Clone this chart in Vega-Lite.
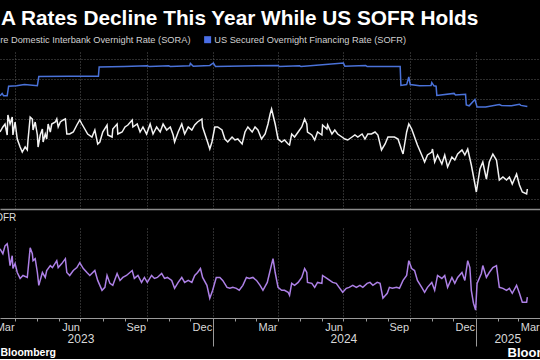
{
  "$schema": "https://vega.github.io/schema/vega-lite/v6.json",
  "background": "#000000",
  "padding": {"left": -11, "top": 8, "right": -36, "bottom": 0},
  "title": {"text": "A Rates Decline This Year While US SOFR Holds", "anchor": "start", "font": "Liberation Sans", "fontSize": 20.8, "fontWeight": "bold", "color": "#ffffff", "dx": 12, "offset": -11, "baseline": "alphabetic"},
  "config": {
    "view": {"stroke": null},
    "font": "Liberation Sans",
    "axis": {"gridColor": "#5a5a5a", "gridDash": [1, 2], "gridWidth": 1}
  },
  "spacing": 4,
  "datasets": {
    "sofr": [
      {"date": "2023-03-11", "rate": 4.58}, {"date": "2023-03-14", "rate": 4.64}, {"date": "2023-03-16", "rate": 4.58}, {"date": "2023-03-21", "rate": 4.58},
      {"date": "2023-03-23", "rate": 4.82}, {"date": "2023-04-03", "rate": 4.83}, {"date": "2023-04-14", "rate": 4.86}, {"date": "2023-05-02", "rate": 4.83},
      {"date": "2023-05-04", "rate": 5.06}, {"date": "2023-06-15", "rate": 5.07}, {"date": "2023-07-26", "rate": 5.07}, {"date": "2023-07-27", "rate": 5.3},
      {"date": "2023-08-31", "rate": 5.31}, {"date": "2023-10-02", "rate": 5.33}, {"date": "2023-10-05", "rate": 5.31}, {"date": "2023-11-01", "rate": 5.33},
      {"date": "2023-11-03", "rate": 5.31}, {"date": "2023-11-30", "rate": 5.33}, {"date": "2023-12-01", "rate": 5.39}, {"date": "2023-12-05", "rate": 5.32},
      {"date": "2023-12-28", "rate": 5.34}, {"date": "2024-01-02", "rate": 5.4}, {"date": "2024-01-05", "rate": 5.31}, {"date": "2024-04-01", "rate": 5.34},
      {"date": "2024-04-03", "rate": 5.31}, {"date": "2024-05-01", "rate": 5.33}, {"date": "2024-05-03", "rate": 5.31}, {"date": "2024-07-01", "rate": 5.4},
      {"date": "2024-07-03", "rate": 5.32}, {"date": "2024-08-01", "rate": 5.34}, {"date": "2024-08-03", "rate": 5.31}, {"date": "2024-09-18", "rate": 5.31},
      {"date": "2024-09-19", "rate": 4.84}, {"date": "2024-09-27", "rate": 4.86}, {"date": "2024-09-30", "rate": 5.05}, {"date": "2024-10-02", "rate": 4.86},
      {"date": "2024-10-15", "rate": 4.83}, {"date": "2024-10-31", "rate": 4.84}, {"date": "2024-11-01", "rate": 4.91}, {"date": "2024-11-04", "rate": 4.83},
      {"date": "2024-11-07", "rate": 4.82}, {"date": "2024-11-08", "rate": 4.59}, {"date": "2024-12-02", "rate": 4.64}, {"date": "2024-12-04", "rate": 4.6},
      {"date": "2024-12-18", "rate": 4.62}, {"date": "2024-12-19", "rate": 4.35}, {"date": "2024-12-23", "rate": 4.33}, {"date": "2024-12-31", "rate": 4.49},
      {"date": "2025-01-03", "rate": 4.3}, {"date": "2025-01-15", "rate": 4.3}, {"date": "2025-02-03", "rate": 4.36}, {"date": "2025-02-06", "rate": 4.34},
      {"date": "2025-02-20", "rate": 4.33}, {"date": "2025-03-03", "rate": 4.37}, {"date": "2025-03-05", "rate": 4.34}, {"date": "2025-03-14", "rate": 4.31}
    ],
    "sora": [
      {"date": "2023-03-11", "rate": 3.675}, {"date": "2023-03-15", "rate": 3.8}, {"date": "2023-03-18", "rate": 3.875}, {"date": "2023-03-21", "rate": 3.6},
      {"date": "2023-03-22", "rate": 4.1}, {"date": "2023-03-25", "rate": 3.875}, {"date": "2023-03-28", "rate": 4.05}, {"date": "2023-03-29", "rate": 3.6},
      {"date": "2023-04-01", "rate": 3.925}, {"date": "2023-04-04", "rate": 3.5}, {"date": "2023-04-08", "rate": 3.3}, {"date": "2023-04-11", "rate": 3.175},
      {"date": "2023-04-15", "rate": 3.3}, {"date": "2023-04-18", "rate": 3.225}, {"date": "2023-04-19", "rate": 3.475}, {"date": "2023-04-22", "rate": 4.05},
      {"date": "2023-04-25", "rate": 4.0}, {"date": "2023-04-26", "rate": 3.725}, {"date": "2023-04-29", "rate": 3.925}, {"date": "2023-05-02", "rate": 3.6},
      {"date": "2023-05-03", "rate": 3.3}, {"date": "2023-05-06", "rate": 3.6}, {"date": "2023-05-09", "rate": 3.75}, {"date": "2023-05-10", "rate": 3.425},
      {"date": "2023-05-13", "rate": 3.625}, {"date": "2023-05-15", "rate": 3.5}, {"date": "2023-05-17", "rate": 3.875}, {"date": "2023-05-20", "rate": 3.675},
      {"date": "2023-05-22", "rate": 3.875}, {"date": "2023-05-27", "rate": 3.925}, {"date": "2023-05-29", "rate": 4.0}, {"date": "2023-05-31", "rate": 3.8},
      {"date": "2023-06-03", "rate": 3.925}, {"date": "2023-06-07", "rate": 3.975}, {"date": "2023-06-10", "rate": 4.0}, {"date": "2023-06-12", "rate": 3.625},
      {"date": "2023-06-16", "rate": 3.625}, {"date": "2023-06-21", "rate": 3.675}, {"date": "2023-06-26", "rate": 3.85}, {"date": "2023-06-30", "rate": 3.975},
      {"date": "2023-07-03", "rate": 3.875}, {"date": "2023-07-07", "rate": 3.75}, {"date": "2023-07-11", "rate": 3.625}, {"date": "2023-07-17", "rate": 3.55},
      {"date": "2023-07-21", "rate": 3.725}, {"date": "2023-07-25", "rate": 3.375}, {"date": "2023-07-28", "rate": 3.425}, {"date": "2023-08-01", "rate": 3.675},
      {"date": "2023-08-07", "rate": 3.85}, {"date": "2023-08-08", "rate": 3.6}, {"date": "2023-08-14", "rate": 3.55}, {"date": "2023-08-15", "rate": 3.75},
      {"date": "2023-08-21", "rate": 3.875}, {"date": "2023-08-22", "rate": 3.625}, {"date": "2023-08-28", "rate": 3.675}, {"date": "2023-09-01", "rate": 3.8},
      {"date": "2023-09-05", "rate": 3.85}, {"date": "2023-09-11", "rate": 3.975}, {"date": "2023-09-12", "rate": 3.8}, {"date": "2023-09-18", "rate": 3.875},
      {"date": "2023-09-22", "rate": 3.675}, {"date": "2023-09-26", "rate": 3.8}, {"date": "2023-10-01", "rate": 3.625}, {"date": "2023-10-06", "rate": 3.875},
      {"date": "2023-10-10", "rate": 3.625}, {"date": "2023-10-15", "rate": 3.8}, {"date": "2023-10-20", "rate": 3.675}, {"date": "2023-10-24", "rate": 3.875},
      {"date": "2023-10-29", "rate": 3.725}, {"date": "2023-11-03", "rate": 3.8}, {"date": "2023-11-07", "rate": 3.6}, {"date": "2023-11-09", "rate": 3.425},
      {"date": "2023-11-14", "rate": 3.675}, {"date": "2023-11-19", "rate": 3.875}, {"date": "2023-11-23", "rate": 3.625}, {"date": "2023-11-28", "rate": 3.8},
      {"date": "2023-12-03", "rate": 3.725}, {"date": "2023-12-07", "rate": 3.85}, {"date": "2023-12-11", "rate": 3.925}, {"date": "2023-12-17", "rate": 4.0},
      {"date": "2023-12-18", "rate": 3.8}, {"date": "2023-12-24", "rate": 3.475}, {"date": "2023-12-28", "rate": 3.25}, {"date": "2023-12-31", "rate": 3.425},
      {"date": "2024-01-04", "rate": 3.8}, {"date": "2024-01-08", "rate": 3.8}, {"date": "2024-01-14", "rate": 3.725}, {"date": "2024-01-18", "rate": 3.5},
      {"date": "2024-01-22", "rate": 3.425}, {"date": "2024-01-28", "rate": 3.55}, {"date": "2024-02-01", "rate": 3.475}, {"date": "2024-02-05", "rate": 3.5},
      {"date": "2024-02-11", "rate": 3.375}, {"date": "2024-02-15", "rate": 3.675}, {"date": "2024-02-19", "rate": 3.8}, {"date": "2024-02-25", "rate": 3.675},
      {"date": "2024-02-29", "rate": 3.8}, {"date": "2024-03-04", "rate": 3.725}, {"date": "2024-03-09", "rate": 3.5}, {"date": "2024-03-14", "rate": 3.625},
      {"date": "2024-03-18", "rate": 3.875}, {"date": "2024-03-21", "rate": 4.125}, {"date": "2024-03-23", "rate": 4.25}, {"date": "2024-03-28", "rate": 3.875},
      {"date": "2024-04-01", "rate": 3.5}, {"date": "2024-04-06", "rate": 3.425}, {"date": "2024-04-10", "rate": 3.475}, {"date": "2024-04-15", "rate": 3.375},
      {"date": "2024-04-17", "rate": 3.35}, {"date": "2024-04-20", "rate": 3.625}, {"date": "2024-04-24", "rate": 3.55}, {"date": "2024-04-29", "rate": 3.675},
      {"date": "2024-05-04", "rate": 3.8}, {"date": "2024-05-08", "rate": 4.0}, {"date": "2024-05-11", "rate": 3.875}, {"date": "2024-05-12", "rate": 3.675},
      {"date": "2024-05-18", "rate": 3.6}, {"date": "2024-05-22", "rate": 3.475}, {"date": "2024-05-26", "rate": 3.675}, {"date": "2024-06-01", "rate": 3.6},
      {"date": "2024-06-02", "rate": 3.85}, {"date": "2024-06-08", "rate": 3.75}, {"date": "2024-06-09", "rate": 3.85}, {"date": "2024-06-15", "rate": 3.625},
      {"date": "2024-06-19", "rate": 3.725}, {"date": "2024-06-23", "rate": 3.625}, {"date": "2024-06-29", "rate": 3.55}, {"date": "2024-07-03", "rate": 3.5},
      {"date": "2024-07-07", "rate": 3.475}, {"date": "2024-07-13", "rate": 3.55}, {"date": "2024-07-17", "rate": 3.6}, {"date": "2024-07-21", "rate": 3.55},
      {"date": "2024-07-27", "rate": 3.625}, {"date": "2024-07-31", "rate": 3.5}, {"date": "2024-08-04", "rate": 3.625}, {"date": "2024-08-09", "rate": 3.625},
      {"date": "2024-08-14", "rate": 3.675}, {"date": "2024-08-18", "rate": 3.6}, {"date": "2024-08-23", "rate": 3.225}, {"date": "2024-08-28", "rate": 3.375},
      {"date": "2024-09-01", "rate": 3.55}, {"date": "2024-09-06", "rate": 3.55}, {"date": "2024-09-10", "rate": 3.55}, {"date": "2024-09-15", "rate": 3.5},
      {"date": "2024-09-20", "rate": 3.225}, {"date": "2024-09-22", "rate": 3.125}, {"date": "2024-09-24", "rate": 3.35}, {"date": "2024-09-27", "rate": 3.675},
      {"date": "2024-09-30", "rate": 3.875}, {"date": "2024-10-04", "rate": 3.75}, {"date": "2024-10-08", "rate": 3.55}, {"date": "2024-10-12", "rate": 3.35},
      {"date": "2024-10-18", "rate": 3.1}, {"date": "2024-10-22", "rate": 2.925}, {"date": "2024-10-26", "rate": 3.1}, {"date": "2024-11-01", "rate": 3.175},
      {"date": "2024-11-02", "rate": 3.25}, {"date": "2024-11-05", "rate": 2.925}, {"date": "2024-11-09", "rate": 3.1}, {"date": "2024-11-15", "rate": 2.875},
      {"date": "2024-11-19", "rate": 3.1}, {"date": "2024-11-23", "rate": 2.8}, {"date": "2024-11-29", "rate": 3.05}, {"date": "2024-12-03", "rate": 2.975},
      {"date": "2024-12-07", "rate": 3.125}, {"date": "2024-12-13", "rate": 3.225}, {"date": "2024-12-17", "rate": 3.1}, {"date": "2024-12-21", "rate": 3.25},
      {"date": "2024-12-26", "rate": 2.85}, {"date": "2024-12-31", "rate": 2.375}, {"date": "2025-01-02", "rate": 2.175}, {"date": "2025-01-07", "rate": 2.75},
      {"date": "2025-01-11", "rate": 2.925}, {"date": "2025-01-16", "rate": 2.5}, {"date": "2025-01-20", "rate": 2.925}, {"date": "2025-01-25", "rate": 3.125},
      {"date": "2025-01-30", "rate": 2.975}, {"date": "2025-02-03", "rate": 2.475}, {"date": "2025-02-08", "rate": 2.55}, {"date": "2025-02-13", "rate": 2.475},
      {"date": "2025-02-17", "rate": 2.55}, {"date": "2025-02-21", "rate": 2.375}, {"date": "2025-02-27", "rate": 2.625}, {"date": "2025-03-03", "rate": 2.35},
      {"date": "2025-03-07", "rate": 2.175}, {"date": "2025-03-13", "rate": 2.125}, {"date": "2025-03-14", "rate": 2.25}
    ],
    "spread": [
      {"date": "2023-03-11", "value": -1.275}, {"date": "2023-03-15", "value": -1.4}, {"date": "2023-03-18", "value": -1.2}, {"date": "2023-03-21", "value": -1.15},
      {"date": "2023-03-22", "value": -1.25}, {"date": "2023-03-25", "value": -1.7}, {"date": "2023-03-28", "value": -1.45}, {"date": "2023-03-29", "value": -1.775},
      {"date": "2023-04-01", "value": -1.65}, {"date": "2023-04-04", "value": -1.875}, {"date": "2023-04-08", "value": -2.025}, {"date": "2023-04-12", "value": -1.95},
      {"date": "2023-04-18", "value": -2.0}, {"date": "2023-04-22", "value": -1.25}, {"date": "2023-04-25", "value": -1.4}, {"date": "2023-04-26", "value": -1.575},
      {"date": "2023-04-29", "value": -1.525}, {"date": "2023-05-02", "value": -1.875}, {"date": "2023-05-04", "value": -2.2}, {"date": "2023-05-09", "value": -1.875},
      {"date": "2023-05-13", "value": -2.0}, {"date": "2023-05-15", "value": -1.825}, {"date": "2023-05-20", "value": -1.7}, {"date": "2023-05-23", "value": -1.75},
      {"date": "2023-05-29", "value": -1.575}, {"date": "2023-05-31", "value": -1.75}, {"date": "2023-06-05", "value": -1.65}, {"date": "2023-06-10", "value": -1.525},
      {"date": "2023-06-12", "value": -1.875}, {"date": "2023-06-16", "value": -1.95}, {"date": "2023-06-21", "value": -1.825}, {"date": "2023-06-26", "value": -1.75},
      {"date": "2023-06-30", "value": -1.625}, {"date": "2023-07-05", "value": -1.775}, {"date": "2023-07-10", "value": -1.875}, {"date": "2023-07-14", "value": -1.95},
      {"date": "2023-07-21", "value": -1.825}, {"date": "2023-07-25", "value": -2.075}, {"date": "2023-07-31", "value": -2.325}, {"date": "2023-08-04", "value": -2.25},
      {"date": "2023-08-07", "value": -1.95}, {"date": "2023-08-11", "value": -2.15}, {"date": "2023-08-15", "value": -2.2}, {"date": "2023-08-21", "value": -1.9},
      {"date": "2023-08-25", "value": -2.075}, {"date": "2023-08-29", "value": -2.0}, {"date": "2023-09-03", "value": -1.95}, {"date": "2023-09-11", "value": -1.825},
      {"date": "2023-09-14", "value": -2.025}, {"date": "2023-09-19", "value": -1.95}, {"date": "2023-09-24", "value": -2.125}, {"date": "2023-09-28", "value": -2.0},
      {"date": "2023-10-02", "value": -2.125}, {"date": "2023-10-08", "value": -1.95}, {"date": "2023-10-12", "value": -2.025}, {"date": "2023-10-16", "value": -2.0},
      {"date": "2023-10-22", "value": -1.9}, {"date": "2023-10-26", "value": -2.025}, {"date": "2023-10-30", "value": -2.0}, {"date": "2023-11-05", "value": -2.075},
      {"date": "2023-11-09", "value": -2.275}, {"date": "2023-11-14", "value": -2.125}, {"date": "2023-11-19", "value": -2.0}, {"date": "2023-11-23", "value": -2.125},
      {"date": "2023-11-28", "value": -2.075}, {"date": "2023-12-03", "value": -2.125}, {"date": "2023-12-07", "value": -1.95}, {"date": "2023-12-11", "value": -1.875},
      {"date": "2023-12-15", "value": -1.775}, {"date": "2023-12-18", "value": -2.0}, {"date": "2023-12-24", "value": -2.2}, {"date": "2023-12-28", "value": -2.525},
      {"date": "2024-01-01", "value": -2.325}, {"date": "2024-01-06", "value": -2.0}, {"date": "2024-01-11", "value": -2.0}, {"date": "2024-01-15", "value": -2.075},
      {"date": "2024-01-21", "value": -2.25}, {"date": "2024-01-25", "value": -2.275}, {"date": "2024-01-29", "value": -2.25}, {"date": "2024-02-03", "value": -2.275},
      {"date": "2024-02-07", "value": -2.325}, {"date": "2024-02-12", "value": -2.2}, {"date": "2024-02-17", "value": -2.0}, {"date": "2024-02-21", "value": -2.025},
      {"date": "2024-02-26", "value": -2.0}, {"date": "2024-03-02", "value": -2.075}, {"date": "2024-03-07", "value": -2.2}, {"date": "2024-03-11", "value": -2.325},
      {"date": "2024-03-17", "value": -2.125}, {"date": "2024-03-21", "value": -1.825}, {"date": "2024-03-25", "value": -1.525}, {"date": "2024-03-28", "value": -1.875},
      {"date": "2024-04-01", "value": -2.25}, {"date": "2024-04-06", "value": -2.325}, {"date": "2024-04-10", "value": -2.325}, {"date": "2024-04-15", "value": -2.375},
      {"date": "2024-04-17", "value": -2.45}, {"date": "2024-04-20", "value": -2.15}, {"date": "2024-04-24", "value": -2.2}, {"date": "2024-04-29", "value": -2.125},
      {"date": "2024-05-04", "value": -2.0}, {"date": "2024-05-08", "value": -1.775}, {"date": "2024-05-11", "value": -1.875}, {"date": "2024-05-12", "value": -2.125},
      {"date": "2024-05-18", "value": -2.15}, {"date": "2024-05-22", "value": -2.25}, {"date": "2024-05-26", "value": -2.125}, {"date": "2024-06-01", "value": -2.15},
      {"date": "2024-06-02", "value": -1.95}, {"date": "2024-06-08", "value": -2.025}, {"date": "2024-06-12", "value": -2.075}, {"date": "2024-06-16", "value": -2.125},
      {"date": "2024-06-21", "value": -2.15}, {"date": "2024-06-25", "value": -2.25}, {"date": "2024-06-30", "value": -2.375}, {"date": "2024-07-05", "value": -2.275},
      {"date": "2024-07-09", "value": -2.25}, {"date": "2024-07-14", "value": -2.2}, {"date": "2024-07-19", "value": -2.25}, {"date": "2024-07-24", "value": -2.2},
      {"date": "2024-07-28", "value": -2.25}, {"date": "2024-08-03", "value": -2.15}, {"date": "2024-08-07", "value": -2.125}, {"date": "2024-08-11", "value": -2.2},
      {"date": "2024-08-17", "value": -2.125}, {"date": "2024-08-21", "value": -2.15}, {"date": "2024-08-25", "value": -2.525}, {"date": "2024-08-31", "value": -2.4},
      {"date": "2024-09-03", "value": -2.25}, {"date": "2024-09-07", "value": -2.275}, {"date": "2024-09-13", "value": -2.25}, {"date": "2024-09-17", "value": -2.275},
      {"date": "2024-09-22", "value": -2.075}, {"date": "2024-09-27", "value": -1.95}, {"date": "2024-09-30", "value": -1.575}, {"date": "2024-10-04", "value": -1.775},
      {"date": "2024-10-08", "value": -1.825}, {"date": "2024-10-12", "value": -2.075}, {"date": "2024-10-18", "value": -2.25}, {"date": "2024-10-22", "value": -2.375},
      {"date": "2024-10-26", "value": -2.25}, {"date": "2024-11-01", "value": -2.125}, {"date": "2024-11-05", "value": -2.325}, {"date": "2024-11-09", "value": -1.95},
      {"date": "2024-11-15", "value": -2.025}, {"date": "2024-11-19", "value": -1.95}, {"date": "2024-11-23", "value": -2.25}, {"date": "2024-11-29", "value": -2.0},
      {"date": "2024-12-03", "value": -2.15}, {"date": "2024-12-07", "value": -2.0}, {"date": "2024-12-13", "value": -1.875}, {"date": "2024-12-17", "value": -2.075},
      {"date": "2024-12-21", "value": -1.575}, {"date": "2024-12-24", "value": -1.75}, {"date": "2024-12-26", "value": -2.325}, {"date": "2024-12-29", "value": -2.65},
      {"date": "2025-01-01", "value": -2.825}, {"date": "2025-01-03", "value": -2.15}, {"date": "2025-01-09", "value": -1.9}, {"date": "2025-01-11", "value": -1.7},
      {"date": "2025-01-16", "value": -2.0}, {"date": "2025-01-20", "value": -1.875}, {"date": "2025-01-25", "value": -1.75}, {"date": "2025-01-30", "value": -1.7},
      {"date": "2025-02-03", "value": -2.25}, {"date": "2025-02-08", "value": -2.275}, {"date": "2025-02-13", "value": -2.325}, {"date": "2025-02-17", "value": -2.275},
      {"date": "2025-02-21", "value": -2.4}, {"date": "2025-02-27", "value": -2.2}, {"date": "2025-03-03", "value": -2.4}, {"date": "2025-03-07", "value": -2.625},
      {"date": "2025-03-13", "value": -2.625}, {"date": "2025-03-14", "value": -2.5}
    ]
  },
  "vconcat": [
    {
      "width": 541,
      "height": 157,
      "encoding": {
        "x": {"field": "date", "type": "temporal", "scale": {"domain": ["2023-03-11", "2025-04-02"]},
          "axis": {"title": null, "labels": false, "ticks": false, "domain": true, "domainColor": "#8c8c8c", "domainWidth": 1.5, "grid": true, "tickCount": {"interval": "month", "step": 3}}},
        "y": {"field": "rate", "type": "quantitative", "scale": {"domain": [1.75, 5.675], "nice": false, "zero": false},
          "axis": {"title": null, "labels": false, "ticks": false, "domain": false, "grid": true, "values": [2, 2.5, 3, 3.5, 4, 4.5, 5, 5.5]}},
        "color": {"datum": "re Domestic Interbank Overnight Rate (SORA)", "type": "nominal",
          "scale": {"domain": ["re Domestic Interbank Overnight Rate (SORA)", "US Secured Overnight Financing Rate (SOFR)"], "range": ["#f2f2f2", "#4a72d9"]},
          "legend": {"orient": "none", "legendX": -11, "legendY": -17, "direction": "horizontal", "title": null, "symbolType": "square", "symbolSize": 49, "symbolStrokeWidth": 0, "symbolFillColor": "#4a6ee6", "labelFont": "Liberation Sans", "labelFontSize": 9.25, "labelColor": "#d0d0d0", "labelOffset": 2, "labelLimit": 0, "columnPadding": 12, "padding": 0}}
      },
      "layer": [
        {"data": {"name": "sofr"}, "mark": {"type": "line", "strokeWidth": 1.5}, "encoding": {"color": {"datum": "US Secured Overnight Financing Rate (SOFR)", "type": "nominal"}}},
        {"data": {"name": "sora"}, "mark": {"type": "line", "strokeWidth": 1.5}, "encoding": {"color": {"datum": "re Domestic Interbank Overnight Rate (SORA)", "type": "nominal"}}}
      ]
    },
    {
      "width": 541,
      "height": 90,
      "title": {"text": "OFR", "anchor": "start", "font": "Liberation Sans", "fontSize": 10, "fontWeight": "normal", "color": "#dddddd", "offset": 5},
      "data": {"name": "spread"},
      "resolve": {"axis": {"x": "independent"}},
      "layer": [
        {
          "mark": {"type": "line", "strokeWidth": 1.5, "color": "#ad80e6"},
          "encoding": {
            "x": {"field": "date", "type": "temporal", "scale": {"domain": ["2023-03-11", "2025-04-02"]},
              "axis": {"orient": "bottom", "title": "Bloomberg", "titleX": 507, "titleAlign": "left", "titleFont": "Liberation Sans", "titleFontSize": 13, "titleFontWeight": "bold", "titleColor": "#ffffff", "titlePadding": 14, "titleBaseline": "top",
                "tickCount": {"interval": "month", "step": 1},
                "labelExpr": "month(datum.value) % 3 === 0 ? timeFormat(datetime(year(datum.value), month(datum.value) - 1, 1), '%b') : ''",
                "labelAlign": "right", "labelOffset": -1, "labelPadding": 0, "labelOverlap": false, "labelFlush": false, "labelFontSize": 11, "labelColor": "#d9d9d9", "labelBaseline": "top",
                "tickSize": 3, "tickColor": "#9a9a9a", "domainColor": "#9a9a9a", "grid": true,
                "gridOpacity": {"condition": {"test": "month(datum.value) % 3 === 0", "value": 1}, "value": 0}}},
            "y": {"field": "value", "type": "quantitative", "scale": {"domain": [-3.025, -0.75], "nice": false, "zero": false},
              "axis": {"title": null, "labels": false, "ticks": false, "domain": false, "grid": true, "values": [-2.5, -2, -1.5, -1]}}
          }
        },
        {
          "mark": {"type": "line", "strokeOpacity": 0},
          "encoding": {
            "x": {"field": "date", "type": "temporal",
              "axis": {"orient": "bottom", "title": "Bloomberg", "titleAnchor": "start", "titleAlign": "left", "titleFont": "Liberation Sans", "titleFontSize": 10.5, "titleFontWeight": "bold", "titleColor": "#ffffff", "titlePadding": 3, "titleBaseline": "top",
                "values": [{"year": 2023, "month": 7, "date": 1}, {"year": 2024, "month": 7, "date": 1}, {"year": 2025, "month": 2, "date": 14}],
                "labelExpr": "timeFormat(datum.value, '%Y')", "ticks": false, "domain": false, "grid": false, "labelPadding": 15, "labelAlign": "center", "labelOverlap": false, "labelFlush": false, "labelFontSize": 12, "labelColor": "#d9d9d9", "labelBaseline": "top"}},
            "y": {"field": "value", "type": "quantitative", "axis": null}
          }
        },
        {
          "mark": {"type": "line", "strokeOpacity": 0},
          "encoding": {
            "x": {"field": "date", "type": "temporal",
              "axis": {"orient": "bottom", "title": null, "values": [{"year": 2024, "month": 1, "date": 1}, {"year": 2025, "month": 1, "date": 1}],
                "labels": false, "domain": false, "grid": false, "ticks": true, "tickSize": 28, "tickColor": "#9a9a9a"}},
            "y": {"field": "value", "type": "quantitative", "axis": null}
          }
        }
      ]
    }
  ]
}
